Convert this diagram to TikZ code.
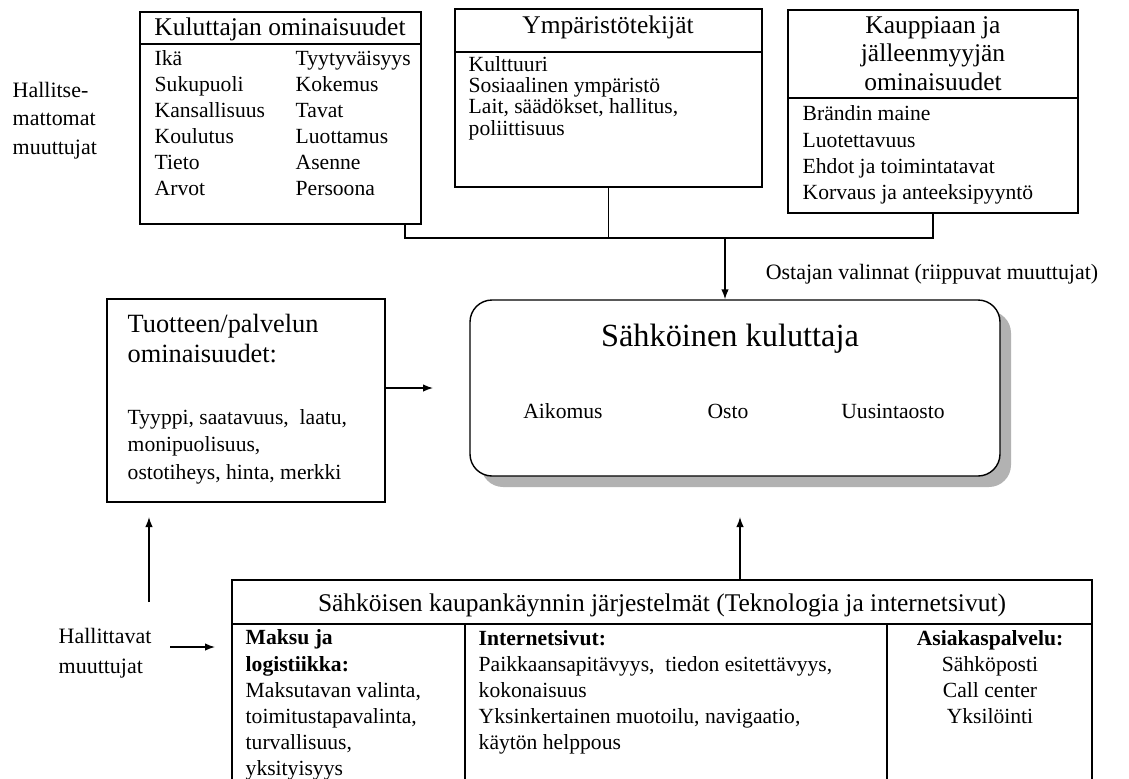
\documentclass[tikz,border=0pt]{standalone}
\usepackage{fontspec}
\setmainfont{Liberation Serif}
\usetikzlibrary{arrows.meta,fit,shadows}

\begin{document}
\begin{tikzpicture}[x=0.02cm,y=-0.02cm,>={Latex[length=0.2cm,width=0.15cm]},thick,
    box/.style={draw,inner sep=0pt},
    title/.style={font=\fontsize{14.5}{16.2}\selectfont,inner sep=0pt,align=center},
    item/.style={font=\fontsize{12.3}{14.7}\selectfont,inner sep=0pt,align=left},
    side/.style={font=\fontsize{12.5}{16.2}\selectfont,inner sep=0pt,align=left}]

    \useasboundingbox (0,0) rectangle (1129,778);
    \clip (0,0) rectangle (1129,778);

    % multi-line nodes sit on the baseline of their last line
    \node[side,anchor=base west] (hmut) at (12,154) {Hallitse-\\mattomat\\muuttujat};

    % Consumer
    \node[box,fit={(140,12) (421,224)}] (kul) {};
    \draw (kul.west |- 0,44) -- (kul.east |- 0,44);
    \node[title,anchor=base] (kultitle) at (280,35) {Kuluttajan ominaisuudet};
    \node[item,anchor=base west] (kulA) at (154,195) {Ikä\\Sukupuoli\\Kansallisuus\\Koulutus\\Tieto\\Arvot};
    \node[item,anchor=base west] (kulB) at (295,195) {Tyytyväisyys\\Kokemus\\Tavat\\Luottamus\\Asenne\\Persoona};

    % Environment
    \node[box,fit={(455,9) (762,187)}] (ymp) {};
    \draw (ymp.west |- 0,52) -- (ymp.east |- 0,52);
    \node[title,anchor=base] (ymptitle) at (608,33) {Ympäristötekijät};
    \node[item,font=\fontsize{12.3}{12}\selectfont,anchor=base west] (ympA) at (468,135)
      {Kulttuuri\\Sosiaalinen ympäristö\\Lait, säädökset, hallitus,\\poliittisuus};

    % Retailer
    \node[box,fit={(788,10) (1078,213)}] (kau) {};
    \draw (kau.west |- 0,98) -- (kau.east |- 0,98);
    \node[title,anchor=base] (kautitle) at (933,90) {Kauppiaan ja\\jälleenmyyjän\\ominaisuudet};
    \node[item,font=\fontsize{12.3}{14.8}\selectfont,anchor=base west] (kauA) at (802,199)
      {Brändin maine\\Luotettavuus\\Ehdot ja toimintatavat\\Korvaus ja anteeksipyyntö};

    % E-consumer
    \node[box,rounded corners=0.44cm,fill=white,
      drop shadow={shadow xshift=0.22cm,shadow yshift=-0.22cm,fill=black!30,opacity=1},
      fit={(470,300) (1000,476)}] (cons) {};
    \node[anchor=base,font=\fontsize{18.4}{20}\selectfont,inner sep=0pt] (constitle) at (730,346) {Sähköinen kuluttaja};
    \node[item,anchor=base] (aik) at (563,418) {Aikomus};
    \node[item,anchor=base] (osto) at (728,418) {Osto};
    \node[item,anchor=base] (uus) at (893,418) {Uusintaosto};

    % Top connectors
    \coordinate (jl) at (405,238);
    \coordinate (jr) at (933,238);
    \coordinate (jm) at (725,238);
    \draw (kul.south -| jl) -- (jl) -- (jr) -- (kau.south);
    \draw (ymp.south) -- (ymp.south |- jl);
    \draw[->] (jm) -- (jm |- cons.north);
    \node[side,font=\fontsize{12.5}{15}\selectfont,anchor=base] (ost) at (932,279) {Ostajan valinnat (riippuvat muuttujat)};

    % Product
    \node[box,fit={(107,299) (385,502)}] (tuo) {};
    \node[item,font=\fontsize{15}{17}\selectfont,anchor=base west] (tuotitle) at (127,362) {Tuotteen/palvelun\\ominaisuudet:};
    \node[item,font=\fontsize{12.3}{15.6}\selectfont,anchor=base west] (tuoA) at (127,479)
      {Tyyppi, saatavuus,~ laatu,\\monipuolisuus,\\ostotiheys, hinta, merkki};
    \coordinate (tuoend) at (433,388);
    \draw[->] (tuoend -| tuo.east) -- (tuoend);

    % Controllable
    \node[side,font=\fontsize{12.5}{17}\selectfont,anchor=base west] (hal) at (58,673) {Hallittavat\\muuttujat};
    \coordinate (hal1) at (170,647);
    \coordinate (hal2) at (215,647);
    \draw[->] (hal1) -- (hal2);
    \coordinate (up1) at (149,602);
    \coordinate (up2) at (149,517);
    \draw[->] (up1) -- (up2);

    % E-commerce systems
    \node[box,fit={(232,580) (1092,800)}] (sys) {};
    \draw (sys.west |- 0,624) -- (sys.east |- 0,624);
    \coordinate (c1) at (465,624);
    \coordinate (c2) at (887,624);
    \draw (c1) -- (c1 |- sys.south);
    \draw (c2) -- (c2 |- sys.south);
    \coordinate (up3) at (740,517);
    \draw[->] (sys.north -| up3) -- (up3);
    \node[title,anchor=base] (systitle) at (662,611) {Sähköisen kaupankäynnin järjestelmät (Teknologia ja internetsivut)};
    \node[item,font=\fontsize{12.3}{14.8}\selectfont,anchor=base west] (sysA) at (245,775)
      {\textbf{Maksu ja}\\\textbf{logistiikka:}\\Maksutavan valinta,\\toimitustapavalinta,\\turvallisuus,\\yksityisyys};
    \node[item,anchor=base west] (sysB) at (478,749)
      {\textbf{Internetsivut:}\\Paikkaansapitävyys,~ tiedon esitettävyys,\\kokonaisuus\\Yksinkertainen muotoilu, navigaatio,\\käytön helppous};
    \node[item,align=center,anchor=base] (sysC) at (990,723)
      {\textbf{Asiakaspalvelu:}\\Sähköposti\\Call center\\Yksilöinti};
\end{tikzpicture}
\end{document}
